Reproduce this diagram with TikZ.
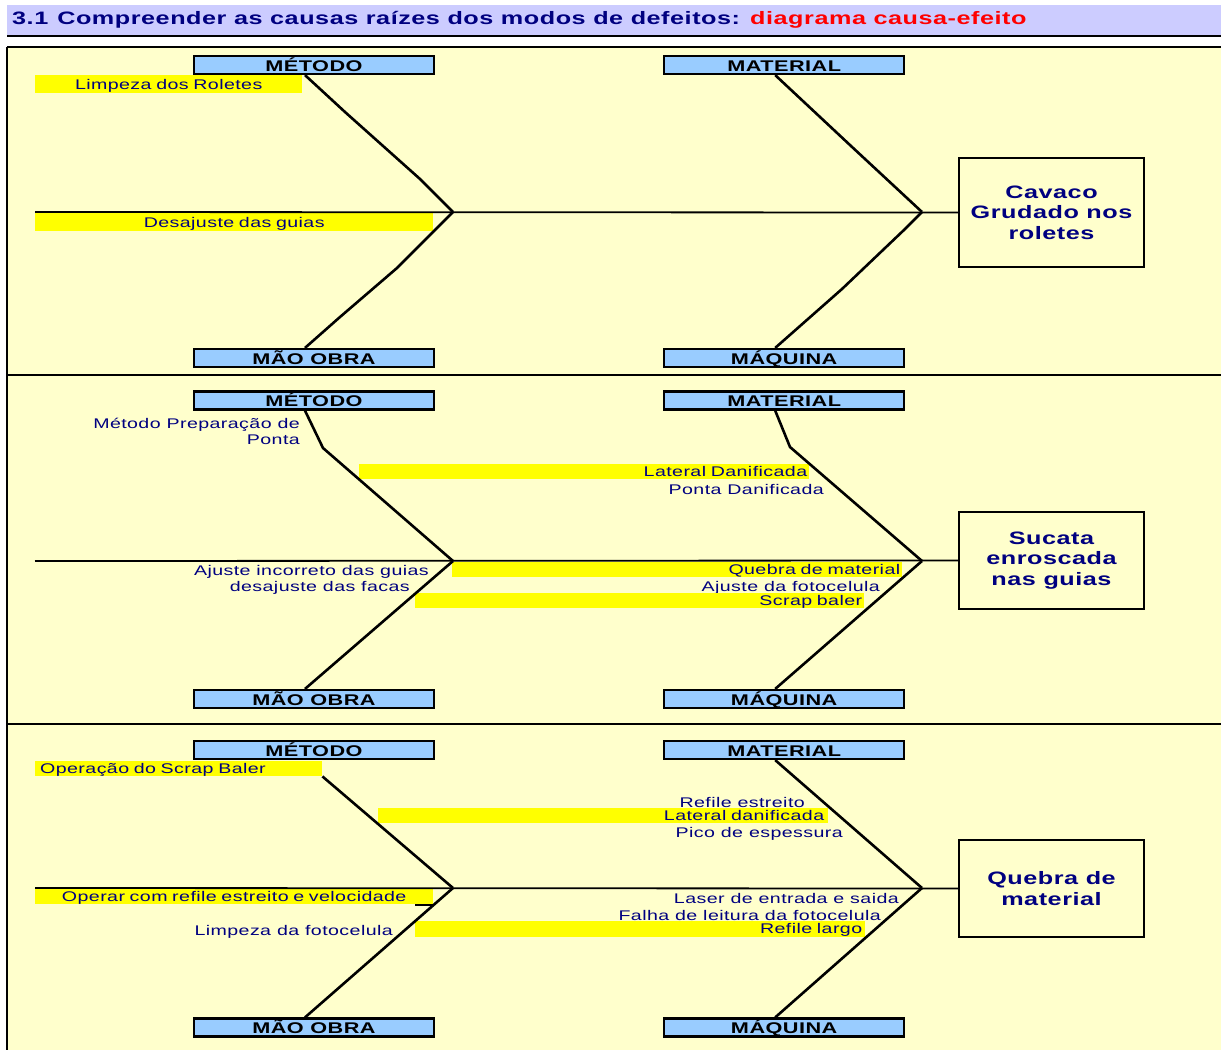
\documentclass[tikz,border=0pt]{standalone}
\usepackage{fontspec}
\usepackage{xcolor}
\usepackage{tikz}
\usetikzlibrary{positioning}
\newfontfamily\diafont[FakeStretch=1.4,LetterSpace=3]{Liberation Sans}
\newcommand{\causafont}{\diafont\fontsize{14}{16}\selectfont}
\newcommand{\catfont}{\diafont\bfseries\fontsize{15.5}{18}\selectfont}
\newcommand{\efeitofont}{\diafont\bfseries\fontsize{18}{20.5}\selectfont}
\newcommand{\titulofont}{\diafont\bfseries\fontsize{18}{20}\selectfont}
\definecolor{fishnavy}{HTML}{000080}
\definecolor{fishred}{HTML}{FF0000}
\definecolor{fishblue}{HTML}{99CCFF}
\definecolor{fishpaper}{HTML}{FFFFCC}
\definecolor{fishbar}{HTML}{CCCCFF}
\definecolor{amarelo}{HTML}{FFFF00}

\begin{document}
\begin{tikzpicture}[x=1pt, y=-1pt,
        catbox/.style={draw=black, line width=2.2pt, fill=fishblue, minimum width=240pt, minimum height=18pt, text height=12.5pt, text depth=0pt, inner sep=0pt, font=\catfont},
        efeito/.style={draw=black, line width=2pt, minimum width=185pt, align=center, font=\efeitofont, text=fishnavy},
        causa/.style={font=\causafont, text=fishnavy, inner sep=0pt},
        solto/.style={causa, anchor=east, yshift=-1.5pt},
        marca/.style={causa, fill=amarelo, align=right, text height=12pt, text depth=3pt, anchor=north west, inner xsep=2pt, inner ysep=0pt},
        osso/.style={line width=2.6pt, line join=round},
        espinha/.style={line width=1.8pt},
        fio/.style={line width=1.5pt}
    ]
    \useasboundingbox (0,0) rectangle (1221,1050);
    % title bar and panels
    \fill [fishbar] (7,5) rectangle (1221,35);
    \draw [line width=2.5pt] (7,36) -- (1221,36);
    \node (titulo) [anchor=west, inner sep=0pt, font=\titulofont, text=fishnavy] at (12,20)
        {3.1\hspace{0.5em}Compreender as causas raízes dos modos de defeitos: \textcolor{fishred}{diagrama causa-efeito}};
    \fill [fishpaper] (7,47) rectangle (1221,1050);
    \draw [line width=1.2pt] (7,47) -- (1221,47);
    \draw [line width=2pt] (7,47) -- (7,1050);
    \draw [line width=2pt] (7,375) -- (1221,375);
    \draw [line width=2pt] (7,724) -- (1221,724);

    % panel A
    \node (metodoA) [catbox] at (314,65) {MÉTODO};
    \node (materialA) [catbox, right=228pt of metodoA] {MATERIAL};
    \node (maoA) [catbox] at (314,358) {MÃO OBRA};
    \node (maquinaA) [catbox, right=228pt of maoA] {MÁQUINA};
    \node (efeitoA) [efeito, minimum height=109pt] at (1051.5,212.5) {Cavaco\\Grudado nos\\roletes};
    \coordinate (cabA) at (35,212);
    \coordinate (vlA) at (453,212);
    \coordinate (vrA) at (922,212);
    \node (limpezaA) [marca, align=center, text width=263pt, text height=14.5pt, text depth=3.5pt] at (35,75) {Limpeza dos Roletes};
    \node (desajusteA) [marca, align=center, text width=394pt, text height=15pt, text depth=4pt] at (35,212) {Desajuste das guias};
    \draw [espinha] (cabA) -- (efeitoA.west);
    \draw [osso] ([xshift=-9pt]metodoA.south) -- (345,112) -- (420,179) -- (vlA);
    \draw [osso] (vlA) -- (433,232) -- (397,268) -- (340,317) -- ([xshift=-9pt]maoA.north);
    \draw [osso] ([xshift=-9pt]materialA.south) -- (851,146) -- (vrA);
    \draw [osso] (vrA) -- (905,229) -- (842,289) -- ([xshift=-9pt]maquinaA.north);

    % panel B
    \node (metodoB) [catbox] at (314,400.5) {MÉTODO};
    \node (materialB) [catbox, right=228pt of metodoB] {MATERIAL};
    \node (maoB) [catbox] at (314,699) {MÃO OBRA};
    \node (maquinaB) [catbox, right=228pt of maoB] {MÁQUINA};
    \node (efeitoB) [efeito, minimum height=97pt] at (1051.5,560.5) {Sucata\\enroscada\\nas guias};
    \coordinate (cabB) at (35,561);
    \coordinate (vlB) at (453,561);
    \coordinate (vrB) at (922,561);
    \node (preparoB) [causa, align=right, anchor=north east] at (300,418) {Método Preparação de\\Ponta};
    \node (lateralB) [marca, text width=446pt] at (359,464) {Lateral Danificada};
    \node (pontaB) [solto] at (824,488) {Ponta Danificada};
    \node (ajusteB) [solto] at (429,570) {Ajuste incorreto das guias};
    \node (facasB) [solto] at (410,586) {desajuste das facas};
    \node (quebraB) [marca, text width=446pt] at (452,562) {Quebra de material};
    \node (fotoB) [solto] at (880,586) {Ajuste da fotocelula};
    \node (scrapB) [marca, text width=445pt] at (415,593) {Scrap baler};
    \draw [espinha] (cabB) -- (efeitoB.west);
    \draw [osso] ([xshift=-9pt]metodoB.south) -- (323,448) -- (vlB);
    \draw [osso] (vlB) -- ([xshift=-9pt]maoB.north);
    \draw [osso] ([xshift=-9pt]materialB.south) -- (790,447) -- (vrB);
    \draw [osso] (vrB) -- ([xshift=-9pt]maquinaB.north);

    % panel C
    \node (metodoC) [catbox] at (314,750) {MÉTODO};
    \node (materialC) [catbox, right=228pt of metodoC] {MATERIAL};
    \node (maoC) [catbox] at (314,1027.5) {MÃO OBRA};
    \node (maquinaC) [catbox, right=228pt of maoC] {MÁQUINA};
    \node (efeitoC) [efeito, minimum height=97pt] at (1051.5,888.5) {Quebra de\\material};
    \coordinate (cabC) at (35,888);
    \coordinate (vlC) at (453,888);
    \coordinate (vrC) at (922,888);
    \node (operacaoC) [marca, align=left, inner xsep=5pt, text width=277pt] at (35,761) {Operação do Scrap Baler};
    \node (estreitoC) [solto] at (805,801) {Refile estreito};
    \node (lateralC) [marca, inner xsep=4pt, text width=442pt] at (378,808) {Lateral danificada};
    \node (picoC) [solto] at (843,832) {Pico de espessura};
    \node (operarC) [marca, align=center, text width=394pt] at (35,889) {Operar com refile estreito e velocidade};
    \node (limpezaC) [solto] at (393,930) {Limpeza da fotocelula};
    \node (laserC) [solto] at (899,897) {Laser de entrada e saida};
    \node (falhaC) [solto] at (881,914) {Falha de leitura da fotocelula};
    \node (largoC) [marca, inner xsep=3pt, text width=444pt, text depth=4pt] at (415,921) {Refile largo};
    \draw [espinha] (cabC) -- (efeitoC.west);
    \draw [fio] (415,905) -- (433,905);
    \draw [osso] (operacaoC.south east) -- (vlC);
    \draw [osso] (vlC) -- ([xshift=-9pt]maoC.north);
    \draw [osso] ([xshift=-9pt]materialC.south) -- (vrC);
    \draw [osso] (vrC) -- ([xshift=-9pt]maquinaC.north);
\end{tikzpicture}
\end{document}
